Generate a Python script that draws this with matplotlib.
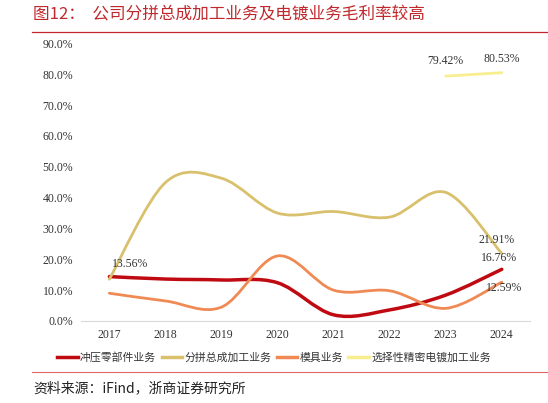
import matplotlib
matplotlib.use('Agg')
import matplotlib.pyplot as plt
from matplotlib.path import Path
from matplotlib.patches import PathPatch
from matplotlib.lines import Line2D
import numpy as np

plt.rcParams['font.family'] = ['Noto Sans CJK SC', 'DejaVu Sans']

years = [2017, 2018, 2019, 2020, 2021, 2022, 2023, 2024]
chongya = [14.4, 13.6, 13.3, 12.4, 2.0, 3.6, 8.4, 16.76]
fenpin = [13.56, 44.9, 46.3, 35.0, 35.5, 33.7, 41.7, 21.91]
muju = [9.0, 6.5, 4.5, 21.1, 10.0, 9.8, 4.1, 12.59]
diandu_years = [2023, 2024]
diandu = [79.42, 80.53]
names = ['冲压零部件业务', '分拼总成加工业务', '模具业务', '选择性精密电镀加工业务']
colors = ['#C00A12', '#D9C06C', '#F08A55', '#F8EE90']

RED = '#C0282D'
NUM_FONT = 'Liberation Serif'


def smooth_path(x, y):
    # catmull-rom style bezier, like excel's smoothed line
    x = np.asarray(x, float)
    y = np.asarray(y, float)
    pts = np.column_stack([x, y])
    n = len(pts)
    verts = [pts[0]]
    codes = [Path.MOVETO]
    for i in range(n - 1):
        p0 = pts[i - 1] if i > 0 else pts[i]
        p1 = pts[i]
        p2 = pts[i + 1]
        p3 = pts[i + 2] if i + 2 < n else pts[i + 1]
        c1 = p1 + (p2 - p0) / 6
        c2 = p2 - (p3 - p1) / 6
        verts += [c1, c2, p2]
        codes += [Path.CURVE4] * 3
    return Path(verts, codes)


fig = plt.figure(figsize=(5.48, 4.03), dpi=100)
ax = fig.add_axes([0.1484, 0.2035, 0.8184, 0.6886])

series = [(years, chongya), (years, fenpin), (years, muju), (diandu_years, diandu)]
widths = [2.5, 2.0, 2.0, 2.0]
for (xs, ys), c, w in zip(series, colors, widths):
    ax.add_patch(PathPatch(smooth_path(xs, ys), fill=False, edgecolor=c, lw=w,
                           capstyle='round', joinstyle='round'))

ax.set_xlim(2016.5, 2024.5)
ax.set_ylim(0, 90)
ax.set_xticks(years)
ax.set_xticklabels([str(y) for y in years], fontfamily=NUM_FONT, fontsize=8.5)
ax.set_yticks(np.arange(0, 91, 10))
ax.set_yticklabels(['%.1f%%' % v for v in np.arange(0, 91, 10)], fontfamily=NUM_FONT, fontsize=8.5)
ax.tick_params(length=0, pad=6, colors='#333333')
for s in ['top', 'right', 'left']:
    ax.spines[s].set_visible(False)
ax.spines['bottom'].set_color('#D9D9D9')
ax.spines['bottom'].set_linewidth(0.8)

lab = dict(fontfamily=NUM_FONT, fontsize=8.5, color='#333333')
ax.annotate('%.2f%%' % fenpin[0], (years[0], fenpin[0]), xytext=(15, 11),
            textcoords='offset points', ha='center', va='center', **lab)
ax.annotate('%.2f%%' % fenpin[-1], (years[-1], fenpin[-1]), xytext=(-4, 10),
            textcoords='offset points', ha='center', va='center', **lab)
ax.annotate('%.2f%%' % chongya[-1], (years[-1], chongya[-1]), xytext=(-2, 8),
            textcoords='offset points', ha='center', va='center', **lab)
ax.annotate('%.2f%%' % muju[-1], (years[-1], muju[-1]), xytext=(2, -4),
            textcoords='offset points', ha='center', va='center', **lab)
ax.annotate('%.2f%%' % diandu[0], (diandu_years[0], diandu[0]), xytext=(0, 11),
            textcoords='offset points', ha='center', va='center', **lab)
ax.annotate('%.2f%%' % diandu[1], (diandu_years[1], diandu[1]), xytext=(0, 10),
            textcoords='offset points', ha='center', va='center', **lab)

handles = [Line2D([], [], color=c, lw=2.5) for c in colors]
fig.legend(handles, names, loc='center', bbox_to_anchor=(274 / 548, 1 - 357 / 403),
           ncol=4, frameon=False, fontsize=7.8, handlelength=1.9, handletextpad=0.2,
           columnspacing=0.5, labelcolor='#333333')

# title and source
fig.text(33 / 548, 1 - 15 / 403, '图12：  公司分拼总成加工业务及电镀业务毛利率较高',
         color=RED, fontsize=12, ha='left', va='center')
fig.add_artist(Line2D([32 / 548, 1], [1 - 32 / 403] * 2, color=RED, lw=0.9))
fig.add_artist(Line2D([32 / 548, 1], [1 - 372 / 403] * 2, color='#E06666', lw=0.8))
fig.text(33 / 548, 1 - 388 / 403, '资料来源：iFind，浙商证券研究所',
         color='#222222', fontsize=10, ha='left', va='center')

fig.savefig('out.png', dpi=100)
